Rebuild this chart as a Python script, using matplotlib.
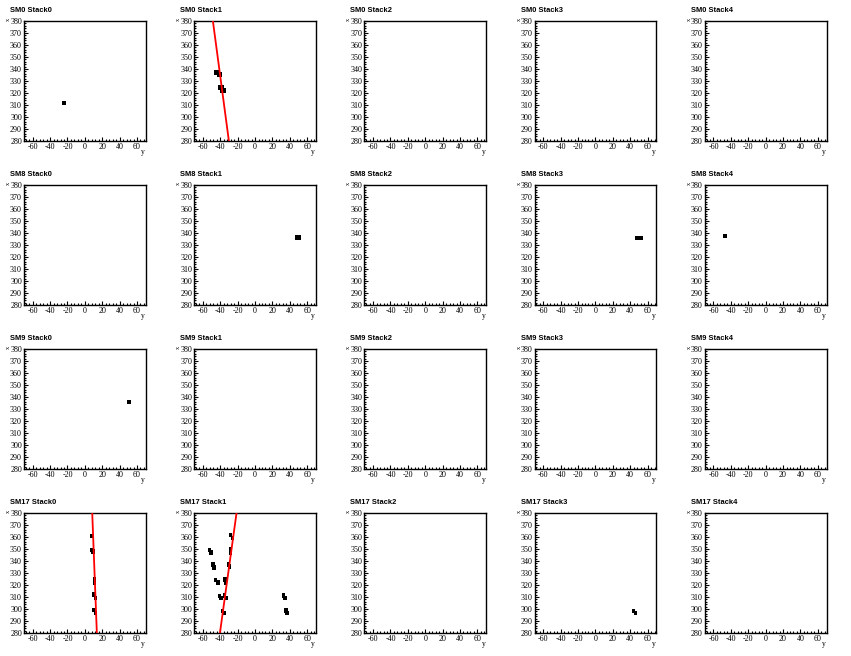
import matplotlib
matplotlib.use("Agg")
import matplotlib.pyplot as plt
from matplotlib.ticker import MultipleLocator

plt.rcParams["axes.unicode_minus"] = False

# ---------------- data ----------------
supermodules = ["SM0", "SM8", "SM9", "SM17"]
stacks = ["Stack0", "Stack1", "Stack2", "Stack3", "Stack4"]

y_range = [-70, 70]
x_range = [280, 380]

# hit cells (y position, x position) per panel
sm0_s0_y = [-23.8]
sm0_s0_x = [311.8]
sm0_s1_y = [-45.3, -42.4, -41.6, -39.8, -40.3, -37.2, -38.0, -35.2]
sm0_s1_x = [337.0, 337.0, 335.4, 335.4, 324.4, 324.4, 322.0, 322.0]
sm8_s1_y = [47.5, 51.3]
sm8_s1_x = [336.2, 336.2]
sm8_s3_y = [48.0, 52.4]
sm8_s3_x = [335.8, 335.8]
sm8_s4_y = [-46.5]
sm8_s4_x = [337.6]
sm9_s0_y = [50.8]
sm9_s0_x = [336.0]
sm17_s0_y = [8.2, 7.8, 9.5, 11.1, 11.1, 10.8, 12.5, 10.8, 12.5]
sm17_s0_x = [361.0, 349.2, 348.0, 324.8, 322.0, 312.3, 309.3, 299.0, 296.5]
sm17_s1_y = [-28.3, -26.0, -52.5, -50.6, -28.0, -28.0, -48.6, -47.2, -30.5, -29.3,
             -45.5, -42.5, -34.6, -33.8, -41.0, -39.2, -35.0, -33.6, -37.5, -35.8,
             32.6, 34.6, 35.5, 36.7]
sm17_s1_x = [361.5, 359.3, 349.0, 346.9, 349.5, 346.5, 337.0, 334.8, 337.0, 335.5,
             324.3, 322.0, 324.5, 322.0, 311.0, 309.0, 311.3, 309.0, 298.5, 296.5,
             311.2, 309.3, 298.8, 296.5]
sm17_s3_y = [44.0, 45.8]
sm17_s3_x = [298.5, 296.5]

# fitted tracks: y at x = 380 and at x = 280
track_x = [380, 280]
sm0_s1_track_y = [-48.5, -30.1]
sm17_s0_track_y = [8.5, 13.8]
sm17_s1_track_y = [-21.3, -40.4]

hits = {
    (0, 0): (sm0_s0_y, sm0_s0_x),
    (0, 1): (sm0_s1_y, sm0_s1_x),
    (1, 1): (sm8_s1_y, sm8_s1_x),
    (1, 3): (sm8_s3_y, sm8_s3_x),
    (1, 4): (sm8_s4_y, sm8_s4_x),
    (2, 0): (sm9_s0_y, sm9_s0_x),
    (3, 0): (sm17_s0_y, sm17_s0_x),
    (3, 1): (sm17_s1_y, sm17_s1_x),
    (3, 3): (sm17_s3_y, sm17_s3_x),
}
tracks = {
    (0, 1): sm0_s1_track_y,
    (3, 0): sm17_s0_track_y,
    (3, 1): sm17_s1_track_y,
}

# ---------------- style ----------------
BOX_W = 4.0
BOX_H = 3.8
W, H = 851, 656
fig = plt.figure(figsize=(W / 100, H / 100), dpi=100)

pw, ph = W / 5, H / 4
serif = "Liberation Serif"
sans = "Liberation Sans"

for r, sm in enumerate(supermodules):
    for c, st in enumerate(stacks):
        x0 = c * pw
        y0 = r * ph
        left = x0 + 24
        right = x0 + 145.7
        top = y0 + 21
        bottom = y0 + 141
        ax = fig.add_axes([left / W, 1 - bottom / H, (right - left) / W, (bottom - top) / H])
        ax.set_xlim(*y_range)
        ax.set_ylim(*x_range)
        ax.xaxis.set_major_locator(MultipleLocator(20))
        ax.xaxis.set_minor_locator(MultipleLocator(4))
        ax.yaxis.set_major_locator(MultipleLocator(10))
        ax.yaxis.set_minor_locator(MultipleLocator(2))
        ax.tick_params(which="both", direction="in", top=False, right=False,
                       width=0.8, color="black")
        ax.tick_params(which="major", length=3.2, labelsize=5.8, pad=1.5)
        ax.tick_params(which="minor", length=1.6)
        for lab in ax.get_xticklabels() + ax.get_yticklabels():
            lab.set_fontfamily(serif)
        for sp in ax.spines.values():
            sp.set_linewidth(1.0)
            sp.set_color("black")

        if (r, c) in hits:
            ys, xs = hits[(r, c)]
            ax.bar(ys, [BOX_H] * len(ys), width=BOX_W,
                   bottom=[x - BOX_H / 2 for x in xs], color="black",
                   linewidth=0, zorder=3)
        if (r, c) in tracks:
            ax.plot(tracks[(r, c)], track_x, color="red", lw=1.3, zorder=4)

        fig.text((x0 + 10) / W, 1 - (y0 + 10) / H, f"{sm} {st}",
                 fontfamily=sans, fontweight="bold", fontsize=5.4,
                 ha="left", va="center")
        fig.text((x0 + 143) / W, 1 - (y0 + 152) / H, "y", fontfamily=serif,
                 fontsize=5.5, ha="center", va="center")
        fig.text((x0 + 8.5) / W, 1 - (y0 + 19) / H, "x", fontfamily=serif,
                 fontsize=4.5, ha="center", va="center", rotation=90)

fig.savefig("out.png", dpi=100)
